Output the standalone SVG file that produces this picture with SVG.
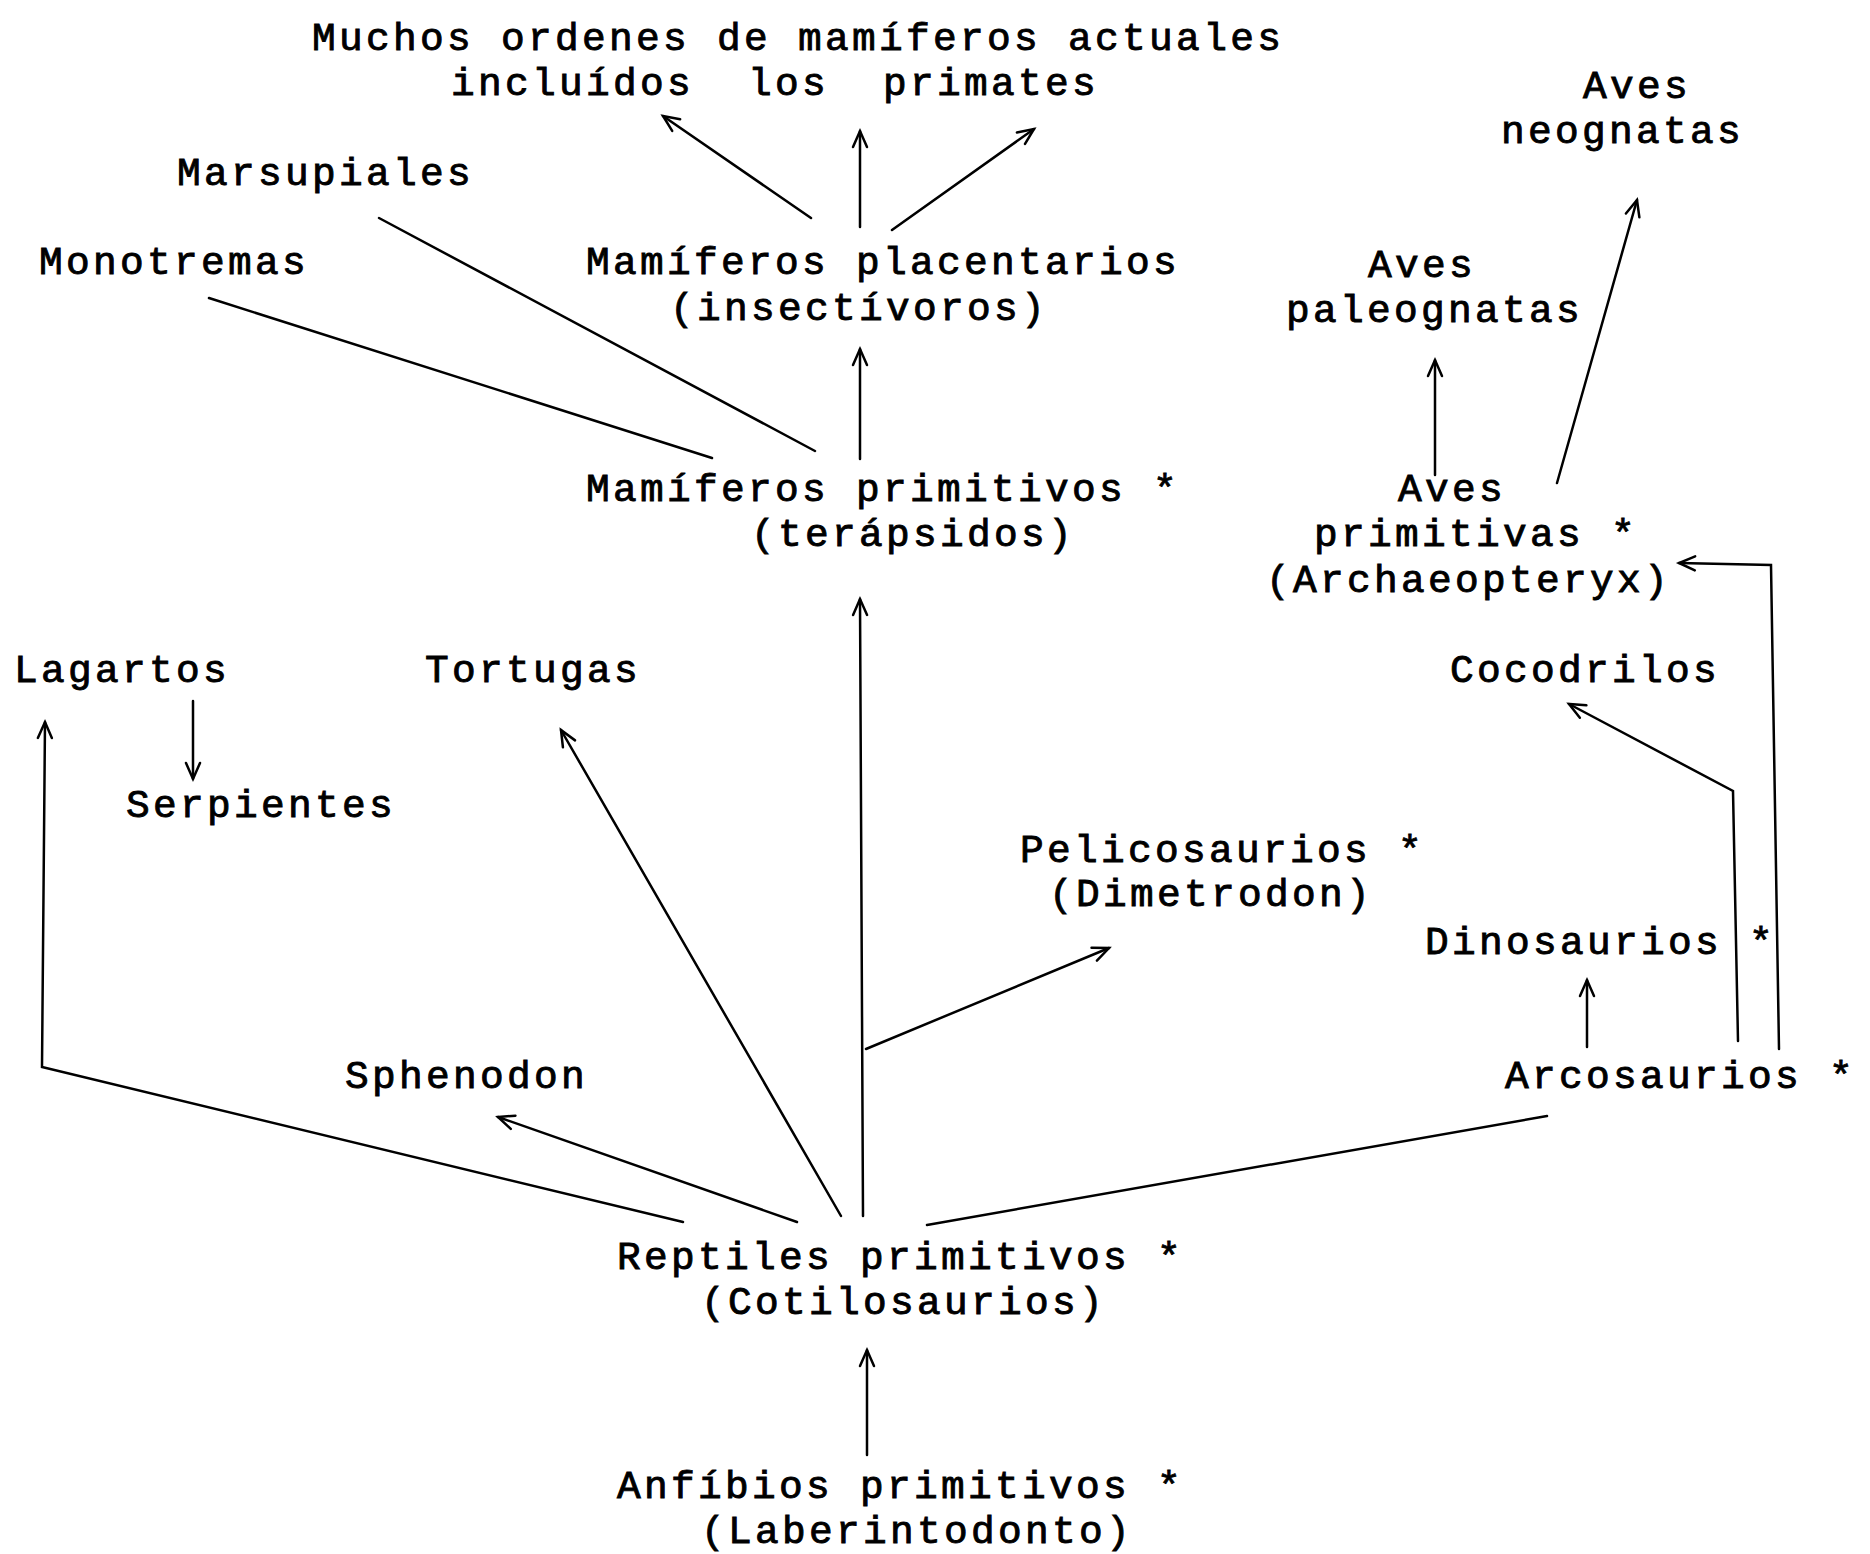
<svg xmlns="http://www.w3.org/2000/svg" width="1870" height="1554" viewBox="0 0 1870 1554">
<style>
text{font-family:"Liberation Mono","Courier New",monospace;font-size:39.5px;letter-spacing:3.3px;fill:#000;stroke:#000;stroke-width:0.9px;white-space:pre}
.c line,.c polyline{stroke:#000;stroke-width:2.5;fill:none;stroke-linecap:round;stroke-linejoin:miter}
</style>
<defs>
<marker id="a" markerUnits="userSpaceOnUse" markerWidth="30" markerHeight="30" refX="0" refY="0" viewBox="-20 -15 30 30" orient="auto" overflow="visible">
<path d="M-16,-7 L0,0 L-16,7" fill="none" stroke="#000" stroke-width="2.5" stroke-linecap="round" stroke-linejoin="miter"/>
</marker>
</defs>
<rect width="1870" height="1554" fill="#fff"/>
<g class="c" id="connectors">
<line x1="811" y1="218" x2="663" y2="116" marker-end="url(#a)"/>
<line x1="860" y1="227" x2="860" y2="131" marker-end="url(#a)"/>
<line x1="892" y1="230" x2="1034" y2="129" marker-end="url(#a)"/>
<line x1="815" y1="451" x2="379" y2="218"/>
<line x1="712" y1="458" x2="209" y2="298"/>
<line x1="860" y1="459" x2="860" y2="349" marker-end="url(#a)"/>
<line x1="1435" y1="475" x2="1435" y2="360" marker-end="url(#a)"/>
<line x1="1557" y1="483" x2="1637" y2="200" marker-end="url(#a)"/>
<polyline points="1779,1049 1771,565 1679,563" marker-end="url(#a)"/>
<polyline points="1738,1041 1733,791 1569,704" marker-end="url(#a)"/>
<line x1="1587" y1="1047" x2="1587" y2="980" marker-end="url(#a)"/>
<line x1="927" y1="1225" x2="1547" y2="1116"/>
<line x1="863" y1="1216" x2="860" y2="599" marker-end="url(#a)"/>
<line x1="866" y1="1049" x2="1109" y2="948" marker-end="url(#a)"/>
<line x1="841" y1="1216" x2="561" y2="730" marker-end="url(#a)"/>
<line x1="797" y1="1222" x2="498" y2="1117" marker-end="url(#a)"/>
<polyline points="683,1222 42,1067 45,722" marker-end="url(#a)"/>
<line x1="193" y1="701" x2="193" y2="779" marker-end="url(#a)"/>
<line x1="867" y1="1455" x2="867" y2="1350" marker-end="url(#a)"/>
</g>
<g id="muchos"><text x="312" y="50">Muchos ordenes de mamíferos actuales</text><text x="451" y="95">incluídos  los  primates</text></g>
<g id="marsupiales"><text x="177" y="185">Marsupiales</text></g>
<g id="monotremas"><text x="39" y="274">Monotremas</text></g>
<g id="placentarios"><text x="586" y="274">Mamíferos placentarios</text><text x="670" y="320">(insectívoros)</text></g>
<g id="neognatas"><text x="1583" y="98">Aves</text><text x="1501" y="143">neognatas</text></g>
<g id="paleognatas"><text x="1368" y="277">Aves</text><text x="1286" y="322">paleognatas</text></g>
<g id="mamprim"><text x="586" y="501">Mamíferos primitivos *</text><text x="751" y="546">(terápsidos)</text></g>
<g id="avesprim"><text x="1398" y="501">Aves</text><text x="1314" y="546">primitivas *</text><text x="1266" y="592">(Archaeopteryx)</text></g>
<g id="lagartos"><text x="14" y="682">Lagartos</text></g>
<g id="tortugas"><text x="425" y="682">Tortugas</text></g>
<g id="cocodrilos"><text x="1450" y="682">Cocodrilos</text></g>
<g id="serpientes"><text x="126" y="817">Serpientes</text></g>
<g id="pelicosaurios"><text x="1020" y="862">Pelicosaurios *</text><text x="1049" y="906">(Dimetrodon)</text></g>
<g id="dinosaurios"><text x="1425" y="954">Dinosaurios *</text></g>
<g id="sphenodon"><text x="345" y="1088">Sphenodon</text></g>
<g id="arcosaurios"><text x="1505" y="1088">Arcosaurios *</text></g>
<g id="reptiles"><text x="617" y="1269">Reptiles primitivos *</text><text x="701" y="1314">(Cotilosaurios)</text></g>
<g id="anfibios"><text x="617" y="1498">Anfíbios primitivos *</text><text x="701" y="1543">(Laberintodonto)</text></g>
</svg>
